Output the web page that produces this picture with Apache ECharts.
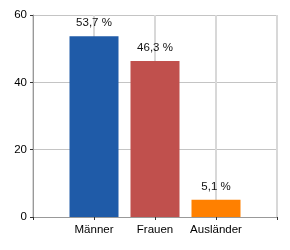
<!DOCTYPE html>
<html><head><meta charset="utf-8">
<script src="https://cdn.jsdelivr.net/npm/echarts@6/dist/echarts.min.js"></script>
<style>html,body{margin:0;padding:0;background:#fff}#c{width:290px;height:250px}</style>
</head><body><div id="c"></div>
<script>
const categories = ['Männer', 'Frauen', 'Ausländer'];
const values = [53.7, 46.3, 5.1];
const barColors = ['#1F5BA8', '#C0504D', '#FF8000'];
const yTicks = [0, 20, 40, 60];

const seriesData = values.map((v, i) => ({ value: [i + 1, v], itemStyle: { color: barColors[i] } }));

const chart = echarts.init(document.getElementById('c'), null, { renderer: 'canvas' });
chart.setOption({
  animation: false,
  grid: { left: 33, right: 13, top: 15, bottom: 33 },
  xAxis: {
    type: 'value', min: 0, max: categories.length + 1, interval: 1,
    axisLine: { show: true, lineStyle: { color: '#999', width: 1 } },
    axisTick: { show: true, length: 3, lineStyle: { color: '#333' } },
    axisLabel: {
      margin: 7, color: '#000', fontFamily: 'Liberation Sans, Arial', fontSize: 11.5,
      formatter: v => categories[v - 1] || ''
    },
    splitLine: { show: true, lineStyle: { color: '#d8d8d8', width: 2, type: 'solid' } }
  },
  yAxis: {
    type: 'value', min: yTicks[0], max: yTicks[yTicks.length - 1], interval: 20,
    axisLine: { show: true, lineStyle: { color: '#999' } },
    axisTick: { show: true, length: 3, lineStyle: { color: '#333' } },
    axisLabel: { margin: 6, color: '#000', fontFamily: 'Liberation Sans, Arial', fontSize: 11.5 },
    splitLine: { show: true, lineStyle: { color: '#c4c4c4' } }
  },
  series: [{
    type: 'bar', data: seriesData, barWidth: 49,
    label: {
      show: true, position: 'top', distance: 7, color: '#111',
      fontFamily: 'Liberation Sans, Arial', fontSize: 11.5,
      formatter: p => String(p.value[1]).replace('.', ',') + ' %'
    }
  }]
});
</script></body></html>
